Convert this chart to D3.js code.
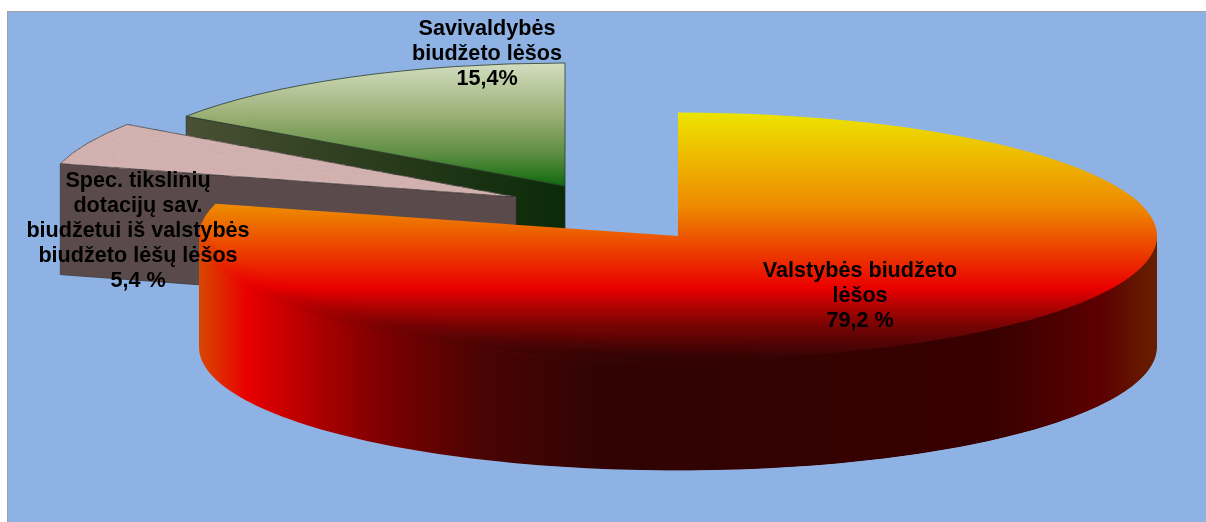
<!DOCTYPE html>
<html>
<head>
<meta charset="utf-8">
<script src="https://cdn.jsdelivr.net/npm/d3@7"></script>
<style>
  html, body { margin: 0; padding: 0; background: #fff; }
  svg { display: block; }
</style>
</head>
<body>
<div id="chart"></div>
<script>
// Chart values
var categories = ["Valstybės biudžeto lėšos", "Spec. tikslinių dotacijų sav. biudžetui iš valstybės biudžeto lėšų lėšos", "Savivaldybės biudžeto lėšos"];
var shares = [79.2, 5.4, 15.4];
var labelLines = [
    ["Valstybės biudžeto", "lėšos", "79,2 %"],
    ["Spec. tikslinių", "dotacijų sav.", "biudžetui iš valstybės", "biudžeto lėšų lėšos", "5,4 %"],
    ["Savivaldybės", "biudžeto lėšos", "15,4%"]
];

var w = 1206;
var h = 522;
var depth = 111;

// Where each slice sits once it is pulled out of the pie
var layout = [
    {cx: 678, cy: 236, rx: 479, ry: 123.5, top: "topRed", wall: "wallRed", stroke: "none", lx: 860, ly: 277},
    {cx: 516, cy: 197, rx: 472, ry: 128, top: "topPink", wall: "#5b4a4b", stroke: "#3a3a3a", lx: 138, ly: 187},
    {cx: 565, cy: 186, rx: 460, ry: 123, top: "topGreen", wall: "wallGreen", stroke: "#2c3a2c", lx: 487, ly: 35}
];

var svg = d3.select("#chart").append("svg").attr("width", w).attr("height", h);
var defs = svg.append("defs");

function gradient(id, vertical, stops) {
    var g = defs.append("linearGradient").attr("id", id)
        .attr("x1", 0).attr("y1", 0)
        .attr("x2", vertical ? 0 : 1).attr("y2", vertical ? 1 : 0);
    stops.forEach(function(s) {
        g.append("stop").attr("offset", s[0]).attr("stop-color", s[1]);
    });
}

gradient("topRed", true, [[0, "#ece400"], [0.385, "#ee8800"], [0.71, "#ea0000"], [0.86, "#7a0404"], [1, "#300404"]]);
gradient("wallRed", false, [[0, "#d84800"], [0.05, "#e80000"], [0.14, "#a00000"], [0.2, "#780000"], [0.3, "#480404"], [0.42, "#300404"], [0.83, "#380000"], [0.94, "#5c0000"], [1, "#682000"]]);
gradient("topGreen", true, [[0, "#d2dec0"], [0.42, "#9cb076"], [0.75, "#5a8c40"], [1, "#0e6a0c"]]);
gradient("wallGreen", false, [[0, "#4a5035"], [0.5, "#2a3c1c"], [1, "#0a2a08"]]);
gradient("topPink", false, [[0, "#d4b2b0"], [1, "#d4b2b0"]]);

// Cross-fade between the soft and the sharp part of the red wall edge
var fade = defs.append("linearGradient").attr("id", "fadeSharp")
    .attr("gradientUnits", "userSpaceOnUse")
    .attr("x1", 420).attr("y1", 0).attr("x2", 760).attr("y2", 0);
fade.append("stop").attr("offset", 0).attr("stop-color", "#000");
fade.append("stop").attr("offset", 1).attr("stop-color", "#fff");
var fade2 = defs.append("linearGradient").attr("id", "fadeSoft")
    .attr("gradientUnits", "userSpaceOnUse")
    .attr("x1", 420).attr("y1", 0).attr("x2", 760).attr("y2", 0);
fade2.append("stop").attr("offset", 0).attr("stop-color", "#fff");
fade2.append("stop").attr("offset", 1).attr("stop-color", "#000");

// Mottled look of the pink slice
var mottle = defs.append("filter").attr("id", "mottle");
mottle.append("feTurbulence").attr("type", "fractalNoise").attr("baseFrequency", "0.09 0.3").attr("numOctaves", 3).attr("seed", 4).attr("result", "n");
mottle.append("feColorMatrix").attr("in", "n").attr("type", "matrix")
    .attr("values", "0 0 0 0 0.55  0 0 0 0 0.4  0 0 0 0 0.4  0.9 0 0 0 -0.3").attr("result", "c");
mottle.append("feComposite").attr("in", "c").attr("in2", "SourceGraphic").attr("operator", "in").attr("result", "m");
var merge = mottle.append("feMerge");
merge.append("feMergeNode").attr("in", "SourceGraphic");
merge.append("feMergeNode").attr("in", "m");

defs.append("filter").attr("id", "soft")
    .attr("filterUnits", "userSpaceOnUse")
    .attr("x", -50).attr("y", -50).attr("width", w + 100).attr("height", h + 100)
    .append("feGaussianBlur").attr("stdDeviation", 8);

function paint(name) {
    return name.charAt(0) == "#" ? name : "url(#" + name + ")";
}

// Background panel, runs off the right and bottom of the picture
svg.append("rect")
    .attr("x", 7.5).attr("y", 11.5)
    .attr("width", w + 10).attr("height", h + 10)
    .attr("fill", "#8db2e3")
    .attr("stroke", "#a0a0a0")
    .attr("stroke-width", 1);

var pie = d3.pie().sort(null).value(function(d) { return d; });
var slices = pie(shares);

function point(l, angle, drop) {
    return [l.cx + l.rx * Math.sin(angle), l.cy - l.ry * Math.cos(angle) + drop];
}

var line = d3.line();

// Drawn back to front: green, pink, then the big red slice
[2, 1, 0].forEach(function(i) {
    var s = slices[i];
    var l = layout[i];
    var g = svg.append("g");
    var arc = d3.arc().innerRadius(0).outerRadius(l.rx);

    function topFace(drop) {
        return g.append("path")
            .attr("d", arc(s))
            .attr("transform", "translate(" + l.cx + "," + (l.cy + drop) + ") scale(1," + (l.ry / l.rx) + ")")
            .attr("fill", paint(l.top))
            .attr("filter", i == 1 ? "url(#mottle)" : null)
            .attr("stroke", l.stroke)
            .attr("stroke-width", 0.8)
            .attr("vector-effect", "non-scaling-stroke");
    }

    // Cut face that looks to the front
    if (i > 0) {
        var corner = point(l, s.startAngle, 0);
        g.append("path")
            .attr("d", line([corner, [l.cx, l.cy], [l.cx, l.cy + depth], [corner[0], corner[1] + depth]]) + "Z")
            .attr("fill", paint(l.wall))
            .attr("stroke", l.stroke)
            .attr("stroke-width", 0.8);
        topFace(0);
        return;
    }

    // Red slice: outer wall, its edge with the top melts away on the left side only
    topFace(10);
    topFace(0);

    var from = Math.max(s.startAngle, Math.PI / 2);
    var to = Math.min(s.endAngle, Math.PI * 3 / 2);
    var angles = d3.range(0, 121).map(function(k) { return from + (to - from) * k / 120; });
    var lower = angles.slice().reverse().map(function(a) { return point(l, a, depth); });

    function wallPath(lift) {
        return line(angles.map(function(a) { return point(l, a, -lift); }).concat(lower)) + "Z";
    }

    var softMask = defs.append("mask").attr("id", "softMask")
        .attr("maskUnits", "userSpaceOnUse")
        .attr("x", 0).attr("y", 0).attr("width", w).attr("height", h);
    softMask.append("rect").attr("width", w).attr("height", h).attr("fill", "url(#fadeSoft)");

    var mask = defs.append("mask").attr("id", "wallMask")
        .attr("maskUnits", "userSpaceOnUse")
        .attr("x", 0).attr("y", 0).attr("width", w).attr("height", h);
    var edge = angles.map(function(a) { return point(l, a, -8); });
    var first = edge[0];
    var last = edge[edge.length - 1];
    mask.append("g")
        .attr("mask", "url(#softMask)")
        .append("path")
        .attr("d", line(edge.concat([[-50, last[1]], [-50, h + 50], [w + 50, h + 50], [w + 50, first[1]]])) + "Z")
        .attr("fill", "#fff")
        .attr("filter", "url(#soft)");
    mask.append("path")
        .attr("d", wallPath(0))
        .attr("fill", "url(#fadeSharp)")
        .style("mix-blend-mode", "screen");
    // Below the edge the wall is always solid
    mask.append("path")
        .attr("d", wallPath(-8))
        .attr("fill", "#fff");

    g.append("path")
        .attr("d", wallPath(24))
        .attr("fill", paint(l.wall))
        .attr("mask", "url(#wallMask)");
});

// Labels
labelLines.forEach(function(lines, i) {
    svg.append("text")
        .attr("x", layout[i].lx)
        .attr("y", layout[i].ly)
        .attr("font-family", "'Liberation Sans', Arial, sans-serif")
        .attr("font-weight", "bold")
        .attr("font-size", "21.6px")
        .attr("fill", "#000")
        .attr("text-anchor", "middle")
        .selectAll("tspan")
        .data(lines)
        .enter()
        .append("tspan")
        .attr("x", layout[i].lx)
        .attr("dy", function(d, k) { return k == 0 ? 0 : 25; })
        .text(function(d) { return d; });
});
</script>
</body>
</html>
